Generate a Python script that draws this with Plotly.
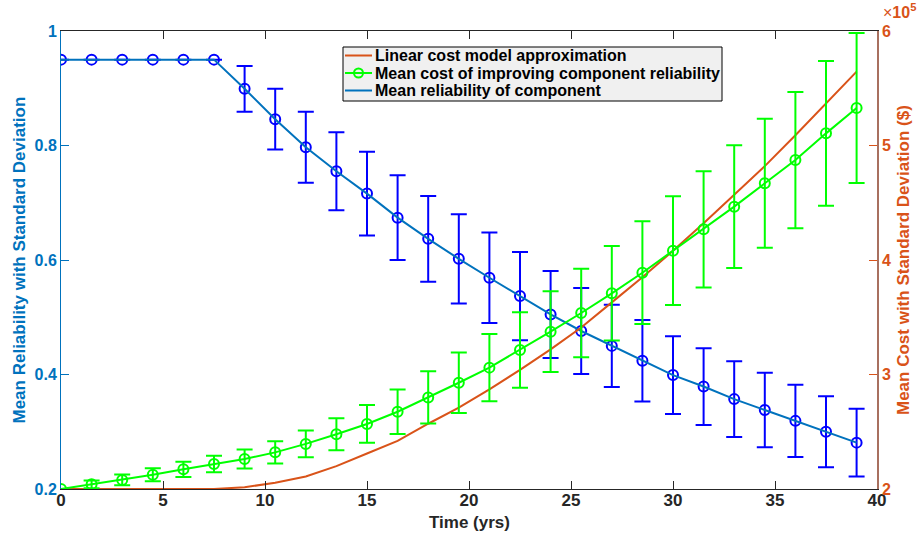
import plotly.graph_objects as go

# ---- data ----
time_yrs = [0, 1.5, 3, 4.5, 6, 7.5, 9, 10.5, 12, 13.5, 15, 16.5, 18, 19.5, 21,
            22.5, 24, 25.5, 27, 28.5, 30, 31.5, 33, 34.5, 36, 37.5, 39]

rel_mean = [0.95, 0.95, 0.95, 0.95, 0.95, 0.95, 0.899, 0.846, 0.797, 0.755, 0.716,
            0.674, 0.637, 0.602, 0.569, 0.537, 0.505, 0.476, 0.450, 0.424, 0.399,
            0.379, 0.357, 0.338, 0.319, 0.300, 0.281]
rel_sd = [0, 0, 0, 0, 0, 0, 0.040, 0.053, 0.062, 0.068, 0.073, 0.074, 0.075, 0.078,
          0.079, 0.077, 0.076, 0.075, 0.072, 0.071, 0.068, 0.067, 0.066, 0.065,
          0.063, 0.062, 0.059]

# cost values in units of 1e5 $
cost_mean = [2.0, 2.041, 2.079, 2.125, 2.172, 2.218, 2.262, 2.32, 2.394, 2.478,
             2.568, 2.675, 2.80, 2.928, 3.06, 3.214, 3.374, 3.537, 3.709, 3.889,
             4.081, 4.268, 4.466, 4.67, 4.873, 5.106, 5.327]
cost_sd = [0, 0.034, 0.047, 0.057, 0.067, 0.072, 0.082, 0.097, 0.117, 0.139, 0.165,
           0.195, 0.228, 0.264, 0.293, 0.329, 0.353, 0.386, 0.413, 0.449, 0.475,
           0.508, 0.536, 0.563, 0.595, 0.632, 0.655]
cost_linear = [2.0, 2.0, 2.0, 2.0, 2.0, 2.0, 2.015, 2.055, 2.11, 2.2, 2.31, 2.42,
               2.57, 2.71, 2.87, 3.04, 3.22, 3.41, 3.63, 3.85, 4.08, 4.32, 4.57,
               4.82, 5.09, 5.37, 5.645]

x_ticks = [0, 5, 10, 15, 20, 25, 30, 35, 40]
rel_ticks = [0.2, 0.4, 0.6, 0.8, 1]
cost_ticks = [2, 3, 4, 5, 6]

legend_names = ["Linear cost model approximation",
                "Mean cost of improving component reliability",
                "Mean reliability of component"]

# ---- styles ----
BLUE_AX = "#0072BD"
ORANGE = "#D95319"
GREEN = "#00FF00"
BLUE = "#0000FF"
DARK = "#262626"
FONT = "Liberation Sans"

W, H = 922, 536
ML, MR, MT, MB = 61, 45, 31, 47
PW, PH = W - ML - MR, H - MT - MB


def px_x(px):
    return (px - ML) / PW


def px_y(py):
    return (H - MB - py) / PH


fig = go.Figure()

# reliability error bars (markers only)
fig.add_trace(go.Scatter(
    x=time_yrs, y=rel_mean, mode="markers", showlegend=False,
    marker=dict(symbol="circle-open", size=10, color=BLUE, line=dict(width=2, color=BLUE)),
    error_y=dict(type="data", array=rel_sd, color=BLUE, thickness=2, width=8),
    yaxis="y", hoverinfo="skip"))

# reliability line
fig.add_trace(go.Scatter(
    x=time_yrs, y=rel_mean, mode="lines", name=legend_names[2], showlegend=False,
    line=dict(color=BLUE_AX, width=2), yaxis="y"))

# linear cost model
fig.add_trace(go.Scatter(
    x=time_yrs, y=cost_linear, mode="lines", name=legend_names[0], showlegend=False,
    line=dict(color=ORANGE, width=2), yaxis="y2"))

# mean cost with sd
fig.add_trace(go.Scatter(
    x=time_yrs, y=cost_mean, mode="lines+markers", name=legend_names[1], showlegend=False,
    line=dict(color=GREEN, width=2),
    marker=dict(symbol="circle-open", size=10, color=GREEN, line=dict(width=2, color=GREEN)),
    error_y=dict(type="data", array=cost_sd, color=GREEN, thickness=2, width=8),
    yaxis="y2"))

# ---- legend box (drawn manually for MATLAB-like compact spacing) ----
shapes = [dict(type="rect", xref="paper", yref="paper", layer="above",
               x0=px_x(343), x1=px_x(722), y0=px_y(101), y1=px_y(47),
               fillcolor="#f0f0f0", line=dict(color="#000000", width=1))]
row_y = [55.5, 73, 90.5]
row_col = [ORANGE, GREEN, BLUE_AX]
annotations = []
for name, yy, col in zip(legend_names, row_y, row_col):
    shapes.append(dict(type="line", xref="paper", yref="paper", layer="above",
                       x0=px_x(345), x1=px_x(372), y0=px_y(yy), y1=px_y(yy),
                       line=dict(color=col, width=2)))
    annotations.append(dict(text=name, xref="paper", yref="paper",
                            x=px_x(373), y=px_y(yy), xanchor="left", yanchor="middle",
                            showarrow=False,
                            font=dict(family=FONT, size=16, color="#000000", weight="bold")))
shapes.append(dict(type="circle", xref="paper", yref="paper", layer="above",
                   x0=px_x(354), x1=px_x(363), y0=px_y(77.5), y1=px_y(68.5),
                   fillcolor="rgba(0,0,0,0)", line=dict(color=GREEN, width=2)))

# axis titles
annotations += [
    dict(text="Mean Reliability with Standard Deviation", xref="paper", yref="paper",
         x=px_x(18.5), y=0.5, xanchor="center", yanchor="middle", textangle=-90,
         showarrow=False, font=dict(family=FONT, size=17, color=BLUE_AX, weight="bold")),
    dict(text="Mean Cost with Standard Deviation ($)", xref="paper", yref="paper",
         x=px_x(903), y=0.5, xanchor="center", yanchor="middle", textangle=-90,
         showarrow=False, font=dict(family=FONT, size=17, color=ORANGE, weight="bold")),
    dict(text="Time (yrs)", xref="paper", yref="paper",
         x=0.5, y=px_y(522), xanchor="center", yanchor="middle",
         showarrow=False, font=dict(family=FONT, size=17, color=DARK, weight="bold")),
    dict(text="×<b>10<sup>5</sup></b>", xref="paper", yref="paper",
         x=px_x(881), y=px_y(23), xanchor="left", yanchor="bottom", showarrow=False,
         font=dict(family=FONT, size=16, color=ORANGE)),
]

fig.update_layout(
    width=W, height=H,
    margin=dict(l=ML, r=MR, t=MT, b=MB, autoexpand=False),
    paper_bgcolor="white", plot_bgcolor="white",
    font=dict(family=FONT, size=16, color=DARK),
    showlegend=False,
    shapes=shapes,
    annotations=annotations,
    xaxis=dict(
        range=[0, 40], tickvals=x_ticks, ticks="inside", ticklen=8, tickwidth=1,
        tickcolor=DARK, showline=True, linecolor=DARK, linewidth=1,
        mirror="ticks", showgrid=False, zeroline=False, automargin=False,
        ticklabelstandoff=-4,
        tickfont=dict(family=FONT, size=17, color=DARK, weight="bold"),
    ),
    yaxis=dict(
        range=[0.2, 1], tickvals=rel_ticks, ticktext=["0.2", "0.4", "0.6", "0.8", "1"],
        ticks="inside", ticklen=8, tickwidth=1, tickcolor=BLUE_AX,
        showline=True, linecolor=BLUE_AX, linewidth=1,
        showgrid=False, zeroline=False, automargin=False,
        tickfont=dict(family=FONT, size=16, color=BLUE_AX, weight="bold"),
    ),
    yaxis2=dict(
        range=[2, 6], tickvals=cost_ticks, overlaying="y", side="right",
        ticks="inside", ticklen=8, tickwidth=1, tickcolor=ORANGE,
        showline=True, linecolor="#a8705f", linewidth=1.5,
        showgrid=False, zeroline=False, automargin=False,
        tickfont=dict(family=FONT, size=16, color=ORANGE, weight="bold"),
    ),
)

fig.write_html(
    "out.html",
    config={"displayModeBar": False},
    post_script="document.body.style.margin='0';document.body.style.padding='0';"
                "document.body.style.overflow='hidden';",
)
